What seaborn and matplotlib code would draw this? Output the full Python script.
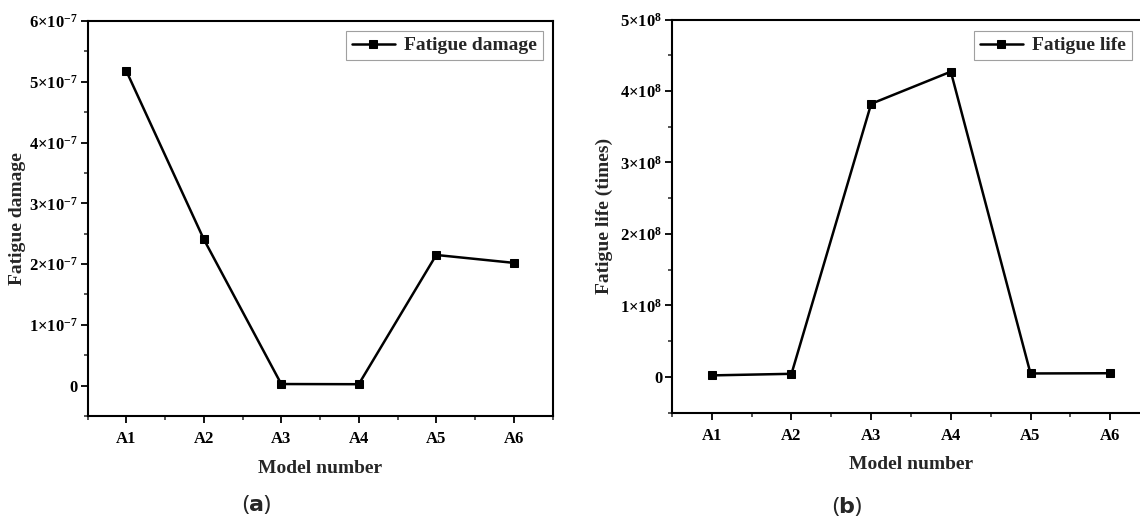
import matplotlib
matplotlib.use("Agg")
import matplotlib.pyplot as plt
import seaborn as sns
import numpy as np
from matplotlib.ticker import FuncFormatter, MultipleLocator, FixedLocator

models = ["A1", "A2", "A3", "A4", "A5", "A6"]
damage = [5.18e-7, 2.41e-7, 0.026e-7, 0.023e-7, 2.15e-7, 2.02e-7]
life = [1.93e6, 4.15e6, 3.82e8, 4.27e8, 4.65e6, 4.95e6]

sns.set_theme(style="white")
plt.rcParams['font.family'] = ['Liberation Serif', 'DejaVu Serif']
plt.rcParams['font.weight'] = 'bold'
plt.rcParams['mathtext.fontset'] = 'custom'
plt.rcParams['mathtext.rm'] = 'Liberation Serif:bold'
plt.rcParams['mathtext.bf'] = 'Liberation Serif:bold'
plt.rcParams['mathtext.it'] = 'Liberation Serif:bold'

W, H = 1140, 523
fig = plt.figure(figsize=(W / 100, H / 100), dpi=100)

def frac(l, t, r, b):
    return [l / W, 1 - b / H, (r - l) / W, (b - t) / H]

ax1 = fig.add_axes(frac(87.5, 21, 552.5, 416))
ax2 = fig.add_axes(frac(672, 19.5, 1150, 412.5))

xs = np.arange(1, len(models) + 1)

def sci_fmt(exp):
    def f(v, pos):
        m = v / 10.0 ** exp
        if abs(m) < 1e-9:
            return "0"
        return r"$%d{\times}10^{%d}$" % (round(m), exp)
    return FuncFormatter(f)

def style(ax, ylabel, ylim, step, exp, ylpad):
    ax.set_xlim(0.5, 6.5)
    ax.set_ylim(*ylim)
    ax.xaxis.set_major_locator(FixedLocator(xs))
    ax.set_xticklabels(models)
    ax.xaxis.set_minor_locator(FixedLocator(np.arange(0.5, 7.0, 1.0)))
    ax.yaxis.set_major_locator(MultipleLocator(step))
    ax.yaxis.set_minor_locator(MultipleLocator(step / 2))
    ax.yaxis.set_major_formatter(sci_fmt(exp))
    ax.tick_params(which='major', direction='out', length=5, width=1.3,
                   colors='black', labelsize=12, bottom=True, left=True, top=False, right=False)
    ax.tick_params(axis='x', which='major', pad=6)
    ax.tick_params(axis='y', which='major', pad=2)
    ax.tick_params(which='minor', direction='out', length=3, width=1.1,
                   bottom=True, left=True, top=False, right=False)
    for lab in ax.get_xticklabels() + ax.get_yticklabels():
        lab.set_fontweight('bold')
    for s in ax.spines.values():
        s.set_color('black')
        s.set_linewidth(1.5)
    ax.set_xlabel("Model number", fontsize=14, fontweight='bold', labelpad=9)
    ax.set_ylabel(ylabel, fontsize=14, fontweight='bold', labelpad=ylpad)

sns.lineplot(x=xs, y=damage, ax=ax1, color='black', marker='s', markersize=6,
             markeredgecolor='black', linewidth=1.8, label="Fatigue damage")
sns.lineplot(x=xs, y=life, ax=ax2, color='black', marker='s', markersize=6,
             markeredgecolor='black', linewidth=1.8, label="Fatigue life")

style(ax1, "Fatigue damage", (-0.5e-7, 6e-7), 1e-7, -7, 2)
style(ax2, "Fatigue life (times)", (-0.5e8, 5e8), 1e8, 8, 5)

for ax, (rx, ty) in ((ax1, (543, 31)), (ax2, (1132, 31))):
    leg = ax.legend(loc='upper right', bbox_to_anchor=(rx / W, 1 - ty / H),
                    bbox_transform=fig.transFigure, frameon=True, fancybox=False,
                    prop={'weight': 'bold', 'size': 14}, borderpad=0.3,
                    handlelength=2.2, handletextpad=0.5, borderaxespad=0)
    leg.get_frame().set_edgecolor('#888888')
    leg.get_frame().set_linewidth(0.8)

fig.text(257 / W, 1 - 505 / H, r"($\mathbf{a}$)", ha='center', va='center',
         fontsize=16, family='Noto Sans', math_fontfamily='dejavusans')
fig.text(847 / W, 1 - 507 / H, r"($\mathbf{b}$)", ha='center', va='center',
         fontsize=16, family='Noto Sans', math_fontfamily='dejavusans')

fig.savefig("out.png", dpi=100)
